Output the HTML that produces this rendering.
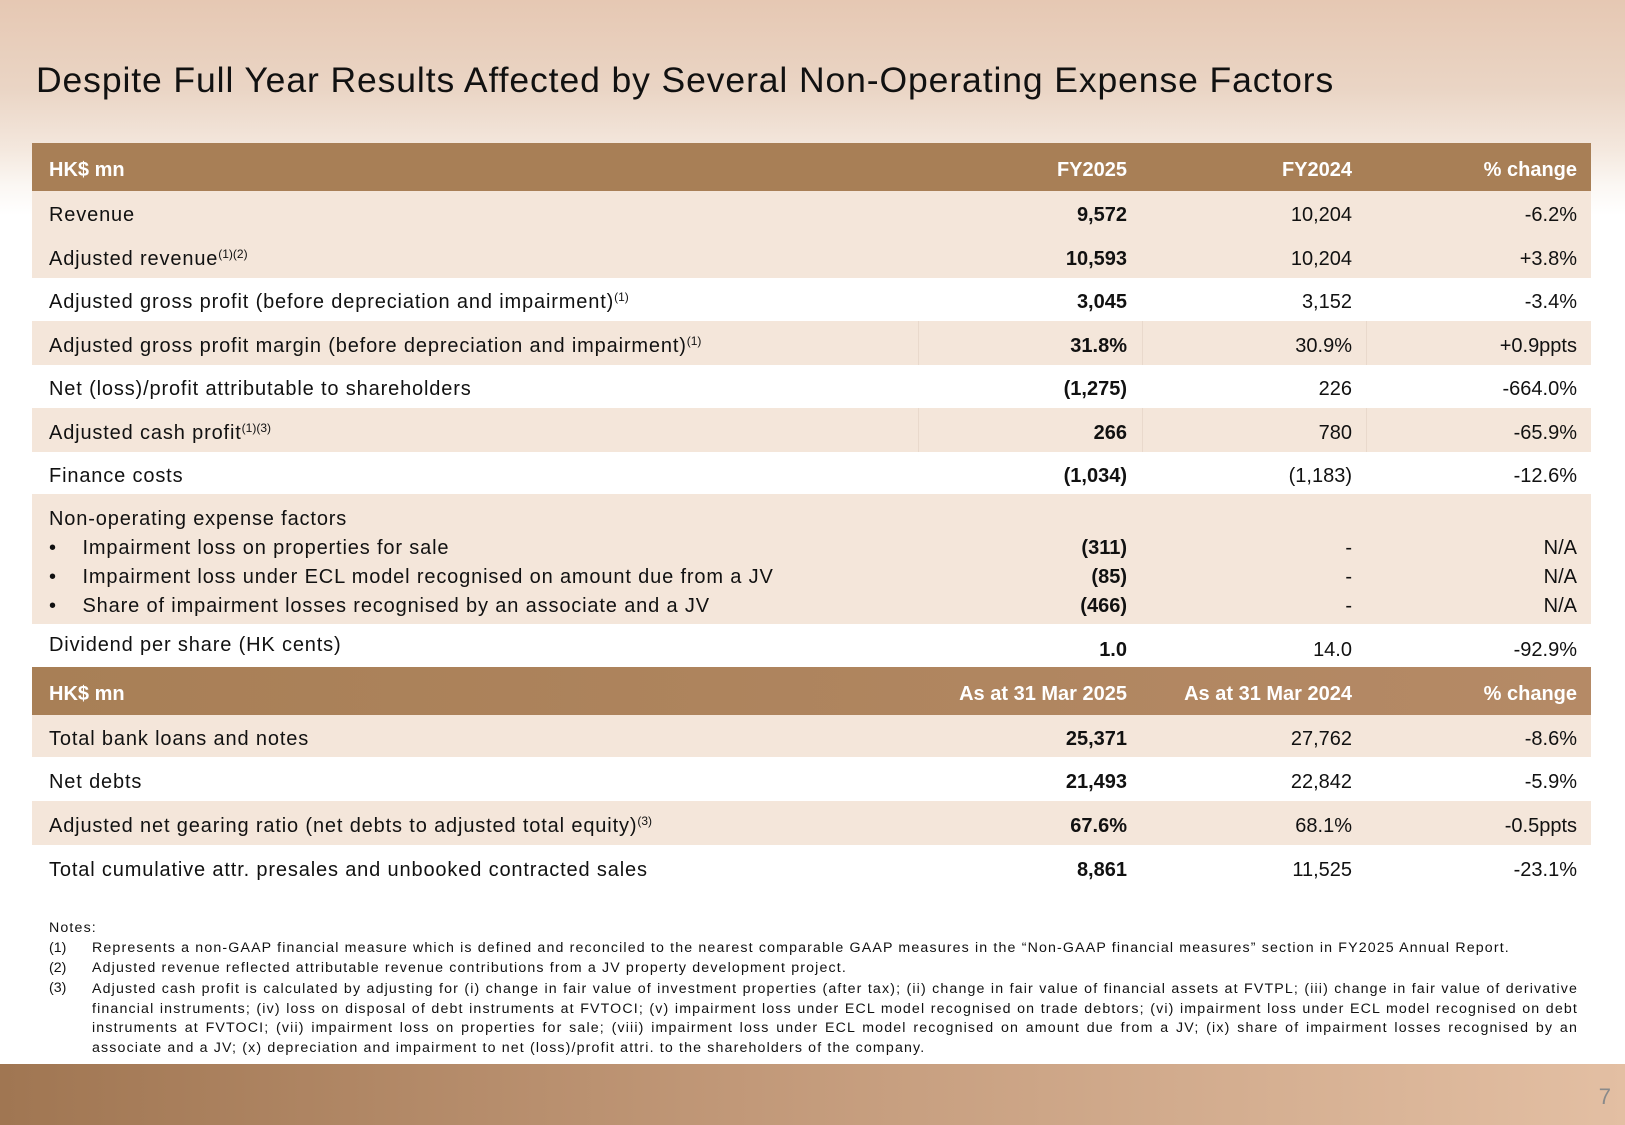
<!DOCTYPE html>
<html><head><meta charset="utf-8"><style>
*{margin:0;padding:0;box-sizing:border-box}
body{width:1625px;height:1125px;position:relative;overflow:hidden;font-family:"Liberation Sans",Arial,sans-serif;color:#111;background:linear-gradient(180deg,#e6c8b3 0px,#ead5c5 90px,#f4e8de 150px,#fbf7f3 185px,#fff 215px)}
.t{position:absolute;left:36px;top:60px;font-size:35.5px;letter-spacing:0.9px;color:#111;white-space:nowrap}
.r{position:absolute;left:32px;width:1559px;font-size:20px;padding-top:3px}
.b{background:#f4e6da}
.w{background:#fff}
.h{background:#a87f56;color:#fff;font-weight:bold}
.h2{background:linear-gradient(90deg,#a87f56,#b58a66);color:#fff;font-weight:bold}
.r span{position:absolute;white-space:nowrap}
.l{left:17px;letter-spacing:0.85px}
.c1{right:464px;font-weight:bold}
.c2{right:239px}
.c3{right:14px}
sup{font-size:12px;vertical-align:7px;line-height:0;letter-spacing:0}
.v1{position:absolute;top:0;bottom:0;width:1px;background:#e9d9cc}
.n{position:absolute;font-size:14.2px;color:#111;letter-spacing:1.15px}
.foot{position:absolute;left:0;top:1064px;width:1625px;height:61px;background:linear-gradient(90deg,#a07652 0%,#c19878 45%,#e3bfa3 100%)}
.pg{position:absolute;right:14px;top:1084px;font-size:22px;color:#8a8a8a}
</style></head><body>
<div class="t">Despite Full Year Results Affected by Several Non-Operating Expense Factors</div>

<div class="r h" style="top:143px;height:48px;line-height:48px"><span class="l" style="letter-spacing:0">HK$ mn</span><span class="c1">FY2025</span><span class="c2" style="font-weight:bold">FY2024</span><span class="c3">% change</span></div>
<div class="r b" style="top:191px;height:43px;line-height:43px"><span class="l">Revenue</span><span class="c1">9,572</span><span class="c2">10,204</span><span class="c3">-6.2%</span></div>
<div class="r b" style="top:234px;height:44px;line-height:44px"><span class="l">Adjusted revenue<sup>(1)(2)</sup></span><span class="c1">10,593</span><span class="c2">10,204</span><span class="c3">+3.8%</span></div>
<div class="r w" style="top:278px;height:43px;line-height:43px"><span class="l">Adjusted gross profit (before depreciation and impairment)<sup>(1)</sup></span><span class="c1">3,045</span><span class="c2">3,152</span><span class="c3">-3.4%</span></div>
<div class="r b" style="top:321px;height:44px;line-height:44px"><div class="v1" style="left:886px"></div><div class="v1" style="left:1110px"></div><div class="v1" style="left:1334px"></div><span class="l">Adjusted gross profit margin (before depreciation and impairment)<sup>(1)</sup></span><span class="c1">31.8%</span><span class="c2">30.9%</span><span class="c3">+0.9ppts</span></div>
<div class="r w" style="top:365px;height:43px;line-height:43px"><span class="l">Net (loss)/profit attributable to shareholders</span><span class="c1">(1,275)</span><span class="c2">226</span><span class="c3">-664.0%</span></div>
<div class="r b" style="top:408px;height:44px;line-height:44px"><div class="v1" style="left:886px"></div><div class="v1" style="left:1110px"></div><div class="v1" style="left:1334px"></div><span class="l">Adjusted cash profit<sup>(1)(3)</sup></span><span class="c1">266</span><span class="c2">780</span><span class="c3">-65.9%</span></div>
<div class="r w" style="top:452px;height:42px;line-height:42px"><span class="l">Finance costs</span><span class="c1">(1,034)</span><span class="c2">(1,183)</span><span class="c3">-12.6%</span></div>
<div class="r b" style="top:494px;height:130px;line-height:29px">
<span class="l" style="top:11px">Non-operating expense factors</span>
<span class="l" style="top:40px">•&nbsp;&nbsp;&nbsp;&nbsp;Impairment loss on properties for sale</span><span class="c1" style="top:40px">(311)</span><span class="c2" style="top:40px">-</span><span class="c3" style="top:40px">N/A</span>
<span class="l" style="top:69px">•&nbsp;&nbsp;&nbsp;&nbsp;Impairment loss under ECL model recognised on amount due from a JV</span><span class="c1" style="top:69px">(85)</span><span class="c2" style="top:69px">-</span><span class="c3" style="top:69px">N/A</span>
<span class="l" style="top:98px">•&nbsp;&nbsp;&nbsp;&nbsp;Share of impairment losses recognised by an associate and a JV</span><span class="c1" style="top:98px">(466)</span><span class="c2" style="top:98px">-</span><span class="c3" style="top:98px">N/A</span>
</div>
<div class="r w" style="top:624px;height:43px;line-height:24px"><span class="l" style="top:9px">Dividend per share (HK cents)</span><span class="c1" style="top:14px">1.0</span><span class="c2" style="top:14px">14.0</span><span class="c3" style="top:14px">-92.9%</span></div>
<div class="r h2" style="top:667px;height:48px;line-height:48px"><span class="l" style="letter-spacing:0">HK$ mn</span><span class="c1">As at 31 Mar 2025</span><span class="c2" style="font-weight:bold">As at 31 Mar 2024</span><span class="c3">% change</span></div>
<div class="r b" style="top:715px;height:42px;line-height:42px"><span class="l">Total bank loans and notes</span><span class="c1">25,371</span><span class="c2">27,762</span><span class="c3">-8.6%</span></div>
<div class="r w" style="top:757px;height:44px;line-height:44px"><span class="l">Net debts</span><span class="c1">21,493</span><span class="c2">22,842</span><span class="c3">-5.9%</span></div>
<div class="r b" style="top:801px;height:44px;line-height:44px"><span class="l">Adjusted net gearing ratio (net debts to adjusted total equity)<sup>(3)</sup></span><span class="c1">67.6%</span><span class="c2">68.1%</span><span class="c3">-0.5ppts</span></div>
<div class="r w" style="top:845px;height:44px;line-height:44px"><span class="l">Total cumulative attr. presales and unbooked contracted sales</span><span class="c1">8,861</span><span class="c2">11,525</span><span class="c3">-23.1%</span></div>

<div class="n" style="left:49px;top:920px">Notes:</div>
<div class="n" style="left:49px;top:940px;letter-spacing:0">(1)</div><div class="n" style="left:92px;top:940px;white-space:nowrap">Represents a non-GAAP financial measure which is defined and reconciled to the nearest comparable GAAP measures in the “Non-GAAP financial measures” section in FY2025 Annual Report.</div>
<div class="n" style="left:49px;top:960px;letter-spacing:0">(2)</div><div class="n" style="left:92px;top:960px">Adjusted revenue reflected attributable revenue contributions from a JV property development project.</div>
<div class="n" style="left:49px;top:980px;letter-spacing:0">(3)</div><div class="n" style="left:92px;top:980px;width:1486px;text-align:justify;line-height:19.7px">Adjusted cash profit is calculated by adjusting for (i) change in fair value of investment properties (after tax); (ii) change in fair value of financial assets at FVTPL; (iii) change in fair value of derivative financial instruments; (iv) loss on disposal of debt instruments at FVTOCI; (v) impairment loss under ECL model recognised on trade debtors; (vi) impairment loss under ECL model recognised on debt instruments at FVTOCI; (vii) impairment loss on properties for sale; (viii) impairment loss under ECL model recognised on amount due from a JV; (ix) share of impairment losses recognised by an associate and a JV; (x) depreciation and impairment to net (loss)/profit attri. to the shareholders of the company.</div>

<div class="foot"></div>
<div class="pg">7</div>
</body></html>
